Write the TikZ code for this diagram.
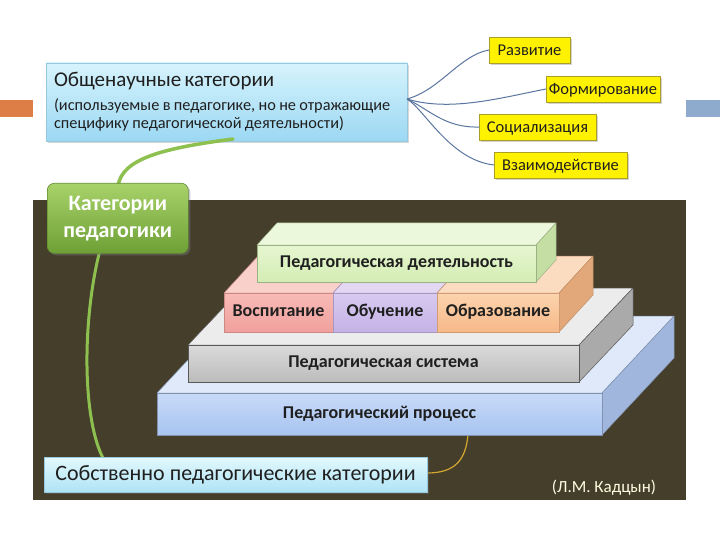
\documentclass[tikz,border=0pt]{standalone}
\usepackage{fontspec}
\setmainfont{Carlito}
\usetikzlibrary{shadows}
\definecolor{darkbg}{RGB}{69,62,43}
\definecolor{orbar}{RGB}{221,126,70}
\definecolor{blbar}{RGB}{142,170,204}
\definecolor{gline}{RGB}{141,192,79}
\definecolor{bline}{RGB}{90,118,160}
\definecolor{goldl}{RGB}{212,168,48}
\definecolor{ybord}{RGB}{170,160,40}
\definecolor{genA}{RGB}{214,243,252}\definecolor{genB}{RGB}{156,216,243}
\definecolor{ownA}{RGB}{226,248,253}\definecolor{ownB}{RGB}{176,228,245}
\definecolor{lbord}{RGB}{150,200,222}
\definecolor{katA}{RGB}{168,210,106}\definecolor{katB}{RGB}{110,160,54}\definecolor{katD}{RGB}{96,140,50}
% blocks
\definecolor{grtopA}{RGB}{236,248,220}\definecolor{grfA}{RGB}{230,246,208}\definecolor{grfB}{RGB}{212,236,180}\definecolor{grside}{RGB}{196,222,164}
\definecolor{pktop}{RGB}{250,208,202}\definecolor{pkfA}{RGB}{248,186,182}\definecolor{pkfB}{RGB}{240,160,156}
\definecolor{putop}{RGB}{226,216,244}\definecolor{pufA}{RGB}{216,202,240}\definecolor{pufB}{RGB}{196,178,230}
\definecolor{ortop}{RGB}{252,220,192}\definecolor{orfA}{RGB}{252,212,174}\definecolor{orfB}{RGB}{246,184,136}\definecolor{orside}{RGB}{226,168,122}
\definecolor{gytop}{RGB}{236,236,236}\definecolor{gyfA}{RGB}{218,218,218}\definecolor{gyfB}{RGB}{188,188,188}\definecolor{gyside}{RGB}{170,170,170}
\definecolor{butop}{RGB}{224,233,250}\definecolor{bufA}{RGB}{200,218,248}\definecolor{bufB}{RGB}{168,196,240}\definecolor{buside}{RGB}{160,182,220}
\newcommand\drawtopface[7]{% x1 y x2 dx dy fill edge
  \filldraw[fill=#6, draw=#7, line width=0.5pt, line join=round] (#1,#2) -- (#1+#4,#2-#5) -- (#3+#4,#2-#5) -- (#3,#2) -- cycle;}
\newcommand\drawsideface[7]{% x y1 y2 dx dy fill edge
  \filldraw[fill=#6, draw=#7, line width=0.5pt, line join=round] (#1,#2) -- (#1+#4,#2-#5) -- (#1+#4,#3-#5) -- (#1,#3) -- cycle;}
\begin{document}
\begin{tikzpicture}[x=1pt,y=-1pt,
  blockface/.style={anchor=north west, inner sep=0pt, outer sep=0pt, line width=0.5pt,
    font=\bfseries\fontsize{18}{20}\selectfont, text=black!88, text height=12pt, text depth=3.5pt},
  ybox/.style={anchor=north west, fill=yellow, draw=ybord, line width=0.6pt, inner sep=0pt, outer sep=0pt,
    minimum height=26pt, font=\fontsize{16.5}{18}\selectfont, text=black!88, text height=13pt, text depth=2pt,
    drop shadow={shadow xshift=2pt, shadow yshift=-2pt, opacity=0.35}},
  lbox/.style={anchor=north west, draw=lbord, line width=0.6pt, inner sep=0pt, outer sep=0pt,
    drop shadow={shadow xshift=2pt, shadow yshift=-2pt, opacity=0.3}},
  bconn/.style={draw=bline, line width=1pt},
  gconn/.style={draw=gline, line width=3.5pt, line cap=round},
]
\useasboundingbox (0,0) rectangle (720,540);
\fill[white] (0,0) rectangle (720,540);
% side bars
\fill[orbar] (0,100) rectangle (33,117);
\fill[blbar] (686,100) rectangle (720,117);
% dark panel
\fill[darkbg] (33,200) rectangle (686,500);

% ---- top box
\node[lbox, top color=genA, bottom color=genB, minimum width=361pt, minimum height=78pt,
  text width=345pt, align=left, text=black!88] (gen) at (46,63)
  {\fontsize{21}{24}\selectfont Общенаучные категории\par\vspace{4pt}\fontsize{16.3}{19.5}\selectfont (используемые в педагогике, но не отражающие\\[3pt]специфику педагогической деятельности)};

% yellow boxes
\node[ybox, minimum width=81pt] (raz) at (489,37) {Развитие};
\node[ybox, minimum width=114pt] (form) at (546,76) {Формирование};
\node[ybox, minimum width=117pt] (soc) at (479,114) {Социализация};
\node[ybox, minimum width=133pt] (vz) at (494,152) {Взаимодействие};

\coordinate (hub) at (407,99);
\draw[bconn] (hub) .. controls (440,90) and (460,55) .. (raz.west);
\draw[bconn] (hub) .. controls (450,112) and (500,98) .. (form.west);
\draw[bconn] (hub) .. controls (430,110) and (445,128) .. (soc.west);
\draw[bconn] (hub) .. controls (425,110) and (450,160) .. (vz.west);

% ---- green connectors
\coordinate (gtop) at (233,139);
\draw[gconn] (gtop) .. controls (165,148) and (122,158) .. (118,186);
\draw[gconn, line width=3pt] (100,250) .. controls (82,320) and (82,420) .. (104,460);
\draw[goldl, line width=1.2pt] (427,473) .. controls (455,473) and (466,460) .. (468,434);

% ---- 3D stack
% process (blue)
\drawtopface{157}{393}{602}{72}{77}{butop}{buside!80!black}
\drawsideface{602}{393}{435}{72}{77}{buside}{buside!80!black}
\node[blockface, top color=bufA, bottom color=bufB, draw=buside!80!black, minimum width=445pt, minimum height=42pt] (proc) at (157,393) {Педагогический процесс};
% system (gray)
\drawtopface{188}{345}{579}{54}{57}{gytop}{black!65}
\drawsideface{579}{345}{382}{54}{57}{gyside}{black!65}
\node[blockface, top color=gyfA, bottom color=gyfB, draw=black!65, minimum width=391pt, minimum height=37pt] (sys) at (188,345) {Педагогическая система};
% middle layer
\drawtopface{224}{293}{333}{34}{37}{pktop}{pkfB!80!black}
\drawtopface{333}{293}{437}{34}{37}{putop}{pufB!80!black}
\drawtopface{437}{293}{559}{34}{37}{ortop}{orside!85!black}
\drawsideface{559}{293}{332}{34}{37}{orside}{orside!85!black}
\node[blockface, top color=pkfA, bottom color=pkfB, draw=pkfB!85!black, minimum width=109pt, minimum height=39pt] (vos) at (224,293) {Воспитание};
\node[blockface, top color=pufA, bottom color=pufB, draw=pufB!85!black, minimum width=104pt, minimum height=39pt] (obu) at (333,293) {Обучение};
\node[blockface, top color=orfA, bottom color=orfB, draw=orfB!85!black, minimum width=122pt, minimum height=39pt] (obr) at (437,293) {Образование};
% activity (green)
\drawtopface{257}{245}{536}{20}{22}{grtopA}{grside!80!black}
\drawsideface{536}{245}{282}{20}{22}{grside}{grside!80!black}
\node[blockface, top color=grfA, bottom color=grfB, draw=grside!80!black, minimum width=279pt, minimum height=37pt] (act) at (257,245) {Педагогическая деятельность};

% ---- green box
\node[anchor=north west, rounded corners=7pt, top color=katA, bottom color=katB,
  draw=katD, line width=0.6pt, minimum width=141pt, minimum height=70pt, inner sep=0pt,
  align=center, text=white, font=\bfseries\fontsize{22}{27}\selectfont,
  drop shadow={shadow xshift=2pt, shadow yshift=-2pt, opacity=0.4}] (kat) at (47,183) {Категории\\педагогики};

% ---- bottom box
\node[lbox, top color=ownA, bottom color=ownB, minimum width=383pt, minimum height=35pt,
  font=\fontsize{22}{24}\selectfont, text=black!88, text height=15pt, text depth=4pt] (own) at (44,457) {Собственно педагогические категории};

\node[text=white!88!yellow, font=\fontsize{17}{19}\selectfont] (auth) at (604,488) {(Л.М. Кадцын)};
\end{tikzpicture}
\end{document}
